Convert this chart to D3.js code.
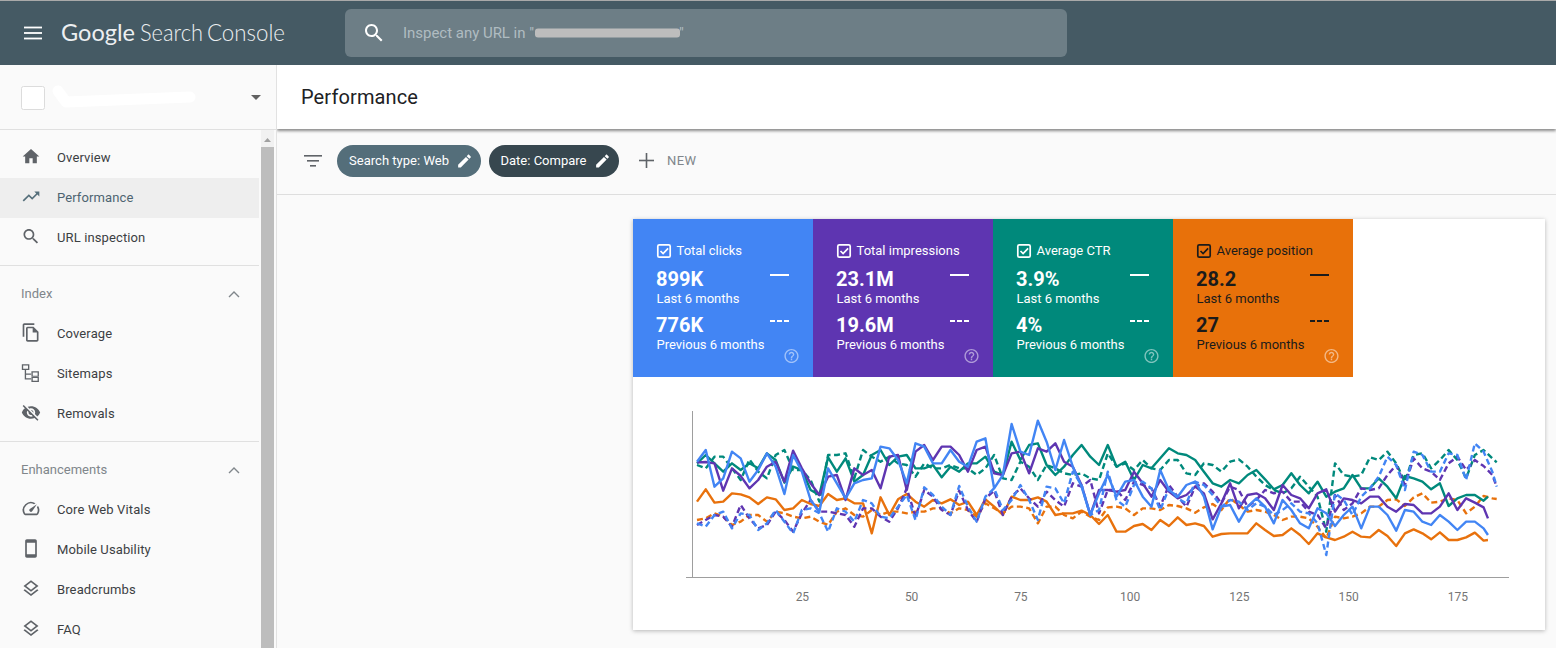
<!DOCTYPE html>
<html><head><meta charset="utf-8">
<script src="https://cdn.jsdelivr.net/npm/d3@7/dist/d3.min.js"></script>
<style>
html,body{margin:0;padding:0;background:#fafafa;overflow:hidden}
svg{display:block;font-family:Roboto,sans-serif}
</style></head><body>
<script>
// Readings from the picture. Each series has its own hidden scale in the source, so they are
// kept on one relative scale where a larger reading sits lower on the chart.
const tickLabels = [25, 50, 75, 100, 125, 150, 175];
const currentDays = d3.range(1, 182, 2).concat([182]);
const previousDays = d3.range(1, 184, 2).concat([184]);

const clicksCurrent = [185,150,260,235,155,175,245,210,160,200,282,165,215,300,335,205,250,295,250,240,235,140,145,180,250,130,140,190,190,150,185,
200,125,115,265,225,72,155,165,62,125,210,120,200,260,345,280,225,290,245,240,290,320,210,270,290,255,245,290,388,320,
315,365,320,295,320,370,300,330,370,385,325,340,378,345,320,385,320,320,345,392,330,335,365,375,345,365,390,365,365,385,405];
const clicksPrevious = [370,380,345,335,385,340,345,390,370,330,365,400,330,325,340,395,325,335,365,300,310,350,355,320,285,360,262,285,320,345,258,
320,365,290,265,330,300,255,300,360,260,265,310,215,255,345,330,215,300,320,255,245,265,330,265,295,310,245,255,285,320,
300,305,330,310,320,345,330,310,335,340,370,465,280,300,345,290,265,230,170,195,270,155,165,215,215,160,165,240,130,155,215,260];
const impressionsCurrent = [187,186,190,272,205,228,265,240,200,185,245,152,205,250,285,230,225,300,205,225,210,265,170,165,270,155,135,180,140,140,165,
215,150,140,220,225,160,155,220,145,155,130,185,200,255,345,270,270,275,270,215,250,290,240,275,295,285,260,280,358,310,
250,325,285,280,295,330,255,285,295,325,280,268,335,295,300,310,290,290,320,335,312,315,340,340,320,280,330,295,308,322,355];
const impressionsPrevious = [375,360,345,350,380,315,355,385,375,335,360,395,340,300,335,335,340,345,380,325,325,350,365,325,265,350,270,290,330,345,272,
330,365,295,272,345,290,265,295,320,275,300,320,250,260,240,340,270,270,300,245,255,265,320,255,290,320,260,250,275,310,
260,270,320,300,270,280,275,305,305,335,345,385,285,330,310,265,270,265,225,195,255,175,205,215,240,190,170,210,180,198,225,260];
const ctrCurrent = [190,165,190,215,190,210,190,205,160,180,248,200,210,270,285,172,215,175,245,225,165,150,195,170,165,205,205,195,232,200,215,
190,190,170,215,225,125,180,135,130,195,225,200,165,135,170,195,135,200,185,240,195,205,175,145,160,165,180,215,250,260,
240,250,225,210,238,268,255,220,255,280,245,290,275,265,225,265,265,235,260,295,228,235,245,268,250,318,295,285,285,302,290];
const ctrPrevious = [195,205,170,170,205,240,178,215,235,165,150,210,210,240,305,165,165,160,235,150,170,185,170,190,195,230,190,205,205,195,205,
205,225,205,165,235,240,185,200,240,195,205,220,225,220,235,240,160,200,190,210,180,205,210,180,180,220,225,190,195,215,
185,178,200,230,255,270,280,265,230,260,290,395,190,225,230,225,172,180,155,190,245,165,160,205,180,150,180,235,165,150,175,187];
const positionCurrent = [305,268,308,305,280,283,292,312,292,298,330,325,300,312,318,282,300,295,310,310,400,292,345,298,282,305,320,300,310,298,315,
305,345,298,320,345,290,300,300,292,305,345,340,340,332,345,372,345,395,395,378,372,390,360,378,352,375,370,378,410,402,
400,400,400,370,390,408,405,385,405,432,400,412,420,410,395,410,412,390,408,438,400,388,400,418,397,420,420,412,398,422,420];
const positionPrevious = [360,355,340,350,375,365,345,345,365,335,340,350,355,350,365,375,335,325,345,350,330,345,335,335,340,335,335,325,325,340,325,
330,350,310,325,340,320,320,325,370,320,320,345,355,335,350,360,322,320,325,345,325,325,330,315,318,325,338,322,312,330,
295,315,335,330,335,345,360,350,350,355,380,415,350,355,350,340,320,320,300,298,318,292,280,308,305,295,300,340,320,288,295,297];

const metricNames = ["Total clicks", "Total impressions", "Average CTR", "Average position"];
const currentTotals = ["899K", "23.1M", "3.9%", "28.2"];
const previousTotals = ["776K", "19.6M", "4%", "27"];
const periodLabels = ["Last 6 months", "Previous 6 months"];
const navTop = ["Overview", "Performance", "URL inspection"];
const navIndex = ["Coverage", "Sitemaps", "Removals"];
const navEnh = ["Core Web Vitals", "Mobile Usability", "Breadcrumbs", "FAQ"];

const P = {
 home:"M10 20v-6h4v6h5v-8h3L12 3 2 12h3v8z",
 trend:"M16 6l2.29 2.29-4.88 4.88-4-4L2 16.59 3.41 18l6-6 4 4 6.3-6.29L22 12V6z",
 search:"M15.5 14h-.79l-.28-.27C15.41 12.59 16 11.11 16 9.5 16 5.91 13.09 3 9.5 3S3 5.91 3 9.5 5.91 16 9.5 16c1.61 0 3.09-.59 4.23-1.57l.27.28v.79l5 4.99L20.49 19l-4.99-5zm-6 0C7.01 14 5 11.99 5 9.5S7.01 5 9.5 5 14 7.01 14 9.5 11.99 14 9.5 14z",
 edit:"M3 17.25V21h3.75L17.81 9.94l-3.75-3.75L3 17.25zM20.71 7.04c.39-.39.39-1.02 0-1.41l-2.34-2.34c-.39-.39-1.02-.39-1.41 0l-1.83 1.83 3.75 3.75 1.83-1.83z",
 help:"M11 18h2v-2h-2v2zm1-16C6.48 2 2 6.48 2 12s4.48 10 10 10 10-4.48 10-10S17.52 2 12 2zm0 18c-4.41 0-8-3.59-8-8s3.59-8 8-8 8 3.59 8 8-3.59 8-8 8zm0-14c-2.21 0-4 1.79-4 4h2c0-1.1.9-2 2-2s2 .9 2 2c0 2-3 1.75-3 5h2c0-2.25 3-2.5 3-5 0-2.21-1.79-4-4-4z",
 copy:"M16 1H4c-1.1 0-2 .9-2 2v14h2V3h12V1zm-1 4H8c-1.1 0-2 .9-2 2v14c0 1.1.9 2 2 2h11c1.1 0 2-.9 2-2V11l-6-6zM8 21V7h6v5h5v9H8z",
 eye:"M12 7c2.76 0 5 2.24 5 5 0 .65-.13 1.26-.36 1.83l2.92 2.92c1.51-1.26 2.7-2.89 3.43-4.75-1.73-4.39-6-7.5-11-7.5-1.4 0-2.74.25-3.98.7l2.16 2.16C10.74 7.13 11.35 7 12 7zM2 4.27l2.28 2.28.46.46C3.08 8.3 1.78 10.02 1 12c1.73 4.39 6 7.5 11 7.5 1.55 0 3.03-.3 4.38-.84l.42.42L19.73 22 21 20.73 3.27 3 2 4.27zM7.53 9.8l1.55 1.55c-.05.21-.08.43-.08.65 0 1.66 1.34 3 3 3 .22 0 .44-.03.65-.08l1.55 1.55c-.67.33-1.41.53-2.2.53-2.76 0-5-2.24-5-5 0-.79.2-1.53.53-2.2zm4.31-.78l3.15 3.15.02-.16c0-1.66-1.34-3-3-3l-.17.01z",
 phone:"M17 1.01L7 1c-1.1 0-2 .9-2 2v18c0 1.1.9 2 2 2h10c1.1 0 2-.9 2-2V3c0-1.1-.9-1.99-2-1.99zM17 19H7V5h10v14z",
 layers:"M11.99 18.54l-7.37-5.73L3 14.07l9 7 9-7-1.63-1.27-7.38 5.74zM12 16l7.36-5.73L21 9l-9-7-9 7 1.63 1.27L12 16zm0-11.47L17.74 9 12 13.47 6.26 9 12 4.53z",
 speed:"M20.38 8.57l-1.23 1.85a8 8 0 0 1-.22 7.58H5.07A8 8 0 0 1 15.58 6.85l1.85-1.23A10 10 0 0 0 3.35 19a2 2 0 0 0 1.72 1h13.85a2 2 0 0 0 1.74-1 10 10 0 0 0-.27-10.44zM10.59 15.41a2 2 0 0 0 2.83 0l5.66-8.49-8.49 5.66a2 2 0 0 0 0 2.83z",
 sitemap:"M1 2h9v7H1zM2.6 3.6v3.8h5.8V3.6zM4.5 9h1.6v4.2h6v1.6h-6v4h6v1.6H4.5zM12.5 10.5h9v7h-9zM14.1 12.1v3.8h5.8v-3.8zM12.5 17h9v6.5h-9zM14.1 18.6v3.3h5.8v-3.3z"
};

const W = 1556, H = 648;
const svg = d3.select("body").append("svg").attr("width", W).attr("height", H);
const defs = svg.append("defs");
const sh = defs.append("filter").attr("id","sh").attr("x","-5%").attr("y","-5%").attr("width","110%").attr("height","120%");
sh.append("feDropShadow").attr("dx",0).attr("dy",1).attr("stdDeviation",2).attr("flood-color","#000").attr("flood-opacity",.28);
const sh2 = defs.append("filter").attr("id","sh2").attr("x","-5%").attr("y","-10%").attr("width","110%").attr("height","130%");
sh2.append("feDropShadow").attr("dx",0).attr("dy",2).attr("stdDeviation",1.6).attr("flood-color","#000").attr("flood-opacity",.45);
const soft = defs.append("filter").attr("id","soft");
soft.append("feGaussianBlur").attr("stdDeviation",.4);

const rect = (x,y,w,h,f,g=svg)=>g.append("rect").attr("x",x).attr("y",y).attr("width",w).attr("height",h).attr("fill",f);
const text = (x,y,s,size,fill,weight=400,g=svg)=>g.append("text").attr("x",x).attr("y",y).text(s).attr("font-size",size).attr("fill",fill).attr("font-weight",weight);
const icon = (d,x,y,size,fill,op=1,g=svg)=>g.append("path").attr("d",d).attr("fill",fill).attr("opacity",op).attr("fill-rule","evenodd").attr("transform",`translate(${x},${y}) scale(${size/24})`);

// page
rect(0,0,W,H,"#fafafa");
rect(277,65,W-277,64,"#fff").attr("filter","url(#sh2)");
rect(277,194,W-277,1,"#dedede");

// sidebar
rect(0,65,277,H-65,"#fafafa");
rect(276,65,1,H-65,"#e2e2e2");
rect(0,129,277,1,"#e0e0e0");
rect(21.5,86.5,23,23,"#fff").attr("stroke","#dcdcdc").attr("rx",2);
svg.append("path").attr("d","M58 91 L66 102 L190 97").attr("fill","none").attr("stroke","#fff").attr("stroke-width",11).attr("stroke-linecap","round").attr("stroke-linejoin","round");
svg.append("path").attr("d","M251 95 h10 l-5 5z").attr("fill","#616161");
rect(0,178,259,40,"#eeeeee");
rect(261,130,13,H-130,"#f1f1f1");
rect(261,147,13,H-147,"#bdbdbd");
svg.append("path").attr("d","M264 142 l3.5 -4 l3.5 4z").attr("fill","#a0a0a0");
rect(0,265,259,1,"#e0e0e0");
rect(0,441,259,1,"#e0e0e0");

const navIcons = [
 [navTop, [162,202,242], ["home","trend","search"]],
 [navIndex, [338,378,418], ["copy","sitemap","eye"]],
 [navEnh, [514,554,594,634], ["speed","phone","layers","layers"]]
];
navIcons.forEach(([names,ys,ics])=>names.forEach((n,i)=>{
  const active = n==="Performance";
  text(57,ys[i],n,13,active?"#4d6471":"#3c4043",400).attr("letter-spacing",.12);
  icon(P[ics[i]],21,ys[i]-15.5,20,active?"#546e7a":"#5f6368");
}));
text(21,298,"Index",13,"#80868b");
text(21,474,"Enhancements",13,"#80868b");
[294,470].forEach(y=>svg.append("path").attr("d",`M229 ${y+3} l5 -5 l5 5`).attr("fill","none").attr("stroke","#80868b").attr("stroke-width",1.4));

// header
rect(0,0,W,65,"#455a64");
rect(0,0,W,1,"#a9a9a9");
[27.5,33,38.5].forEach(y=>rect(24,y-.9,18,1.8,"#fff"));
text(61,41,"Google",24,"#eceff1",400).attr("font-family","Lato").attr("textLength",74).attr("lengthAdjust","spacingAndGlyphs");
text(140,41,"Search",24,"#eceff1",300).attr("font-family","Lato").attr("textLength",63).attr("lengthAdjust","spacingAndGlyphs");
text(207,41,"Console",24,"#eceff1",300).attr("font-family","Lato").attr("textLength",78).attr("lengthAdjust","spacingAndGlyphs");
rect(345,9,722,48,"#6d7e86").attr("rx",6);
icon(P.search,362,21,24,"#fff");
text(403,38,'Inspect any URL in "',15,"#b0bcc1").attr("textLength",131);
rect(535,28.5,145,9,"#bdbdbd").attr("rx",3);
text(679,38,'"',15,"#b0bcc1");

// title row
text(301,104,"Performance",20,"#202124",400).attr("letter-spacing",.12);

// filter row
[[304,18],[307,12],[310,6]].forEach(([x,w],i)=>rect(x,155+i*5,w,1.6,"#5f6368"));
rect(337,145,144,32,"#546e7a").attr("rx",16);
rect(489,145,130,32,"#37474f").attr("rx",16);
text(349,165,"Search type: Web",13,"#fff",400).attr("textLength",100);
text(500.5,165,"Date: Compare",13,"#fff",400).attr("textLength",86);
icon(P.edit,456,152.5,17,"#fff");
icon(P.edit,594,152.5,17,"#fff");
rect(639,159.7,15,1.6,"#5f6368");
rect(645.7,153,1.6,15,"#5f6368");
text(667,165,"NEW",13,"#80868b",400).attr("textLength",29);

// card
rect(633,219,912,411,"#fff").attr("filter","url(#sh)");
const tileColors = ["#4285f4","#5e35b1","#00897b","#e8710a"];
const tileInk = ["#fff","#fff","#fff","#1b1b1b"];
const tileX = d3.scaleBand().domain(d3.range(4)).range([633,1353]);
metricNames.forEach((name,i)=>{
  const x = tileX(i), ink = tileInk[i], g = svg.append("g");
  rect(x,219,tileX.bandwidth(),158,tileColors[i],g);
  rect(x+24.8,244.8,12.4,12.4,"none",g).attr("stroke",ink).attr("stroke-width",1.7).attr("rx",1.5);
  g.append("path").attr("d",`M${x+27.5} 251 l2.6 2.6 l5 -5.2`).attr("fill","none").attr("stroke",ink).attr("stroke-width",1.7);
  text(x+43.5,255,name,13,ink,400,g);
  text(x+23,286,currentTotals[i],20,ink,700,g);
  text(x+23.5,303,periodLabels[0],13,ink,400,g);
  text(x+23,332,previousTotals[i],20,ink,700,g);
  text(x+23.5,349,periodLabels[1],13,ink,400,g);
  rect(x+137,274,19,2,ink,g);
  [0,7,14].forEach(o=>rect(x+137+o,320,5,2,ink,g));
  icon(P.help,x+150,347.5,17,"#fff",.5,g);
});

// chart
const x = d3.scaleLinear().domain([1,184]).range([697,1496.7]);
const y = d3.scaleLinear().domain([531,33]).range([577,411]);
const line = days => d3.line().x((d,i)=>x(days[i])).y(d=>y(d)).curve(d3.curveLinear);
const series = [
  [positionCurrent, currentDays, "#e8710a", false],
  [positionPrevious, previousDays, "#e8710a", true],
  [ctrCurrent, currentDays, "#00897b", false],
  [ctrPrevious, previousDays, "#00897b", true],
  [impressionsCurrent, currentDays, "#5e35b1", false],
  [impressionsPrevious, previousDays, "#5e35b1", true],
  [clicksCurrent, currentDays, "#4285f4", false],
  [clicksPrevious, previousDays, "#4285f4", true]
];
const plot = svg.append("g").attr("filter","url(#soft)");
series.forEach(([vals,days,col,dash])=>{
  plot.append("path").attr("d",line(days)(vals)).attr("fill","none").attr("stroke",col)
    .attr("stroke-width",2.4).attr("stroke-linejoin","round")
    .attr("stroke-dasharray",dash?"6 3.5":null);
});
rect(692,411,1,166,"#9e9e9e");
rect(686,577,823,1,"#9e9e9e");
const ax = svg.append("g").attr("transform","translate(0,577)")
  .call(d3.axisBottom(x).tickValues(tickLabels).tickSize(0).tickPadding(15));
ax.select(".domain").remove();
ax.selectAll("text").attr("font-family","Roboto,sans-serif").attr("font-size",12).attr("fill","#757575");
</script>
</body></html>
